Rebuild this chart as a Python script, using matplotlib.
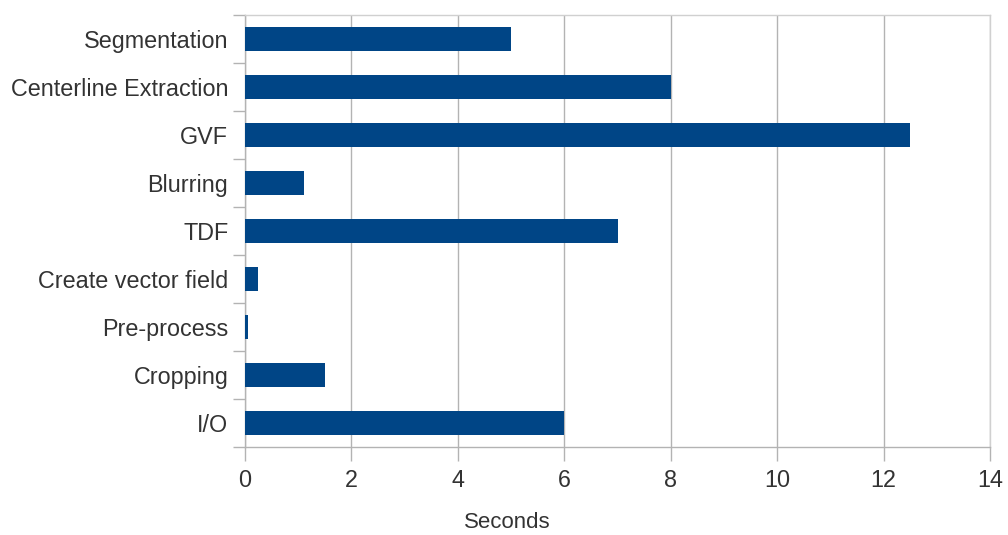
import matplotlib
matplotlib.use("Agg")
import matplotlib.pyplot as plt
from matplotlib.ticker import FixedLocator, NullFormatter

categories = ["I/O", "Cropping", "Pre-process", "Create vector field", "TDF",
              "Blurring", "GVF", "Centerline Extraction", "Segmentation"]
seconds = [6.0, 1.5, 0.05, 0.25, 7.0, 1.1, 12.5, 8.0, 5.0]
x_ticks = [0, 2, 4, 6, 8, 10, 12, 14]

plt.rcParams["font.family"] = ["Liberation Sans", "DejaVu Sans"]

fig = plt.figure(figsize=(10.08, 5.35), dpi=100)
ax = fig.add_axes([245 / 1008, 1 - 447 / 535, (990 - 245) / 1008, (447 - 15) / 535])

pos = list(range(len(categories)))
ax.barh(pos, seconds, height=0.52, color="#004586", zorder=3)

ax.set_xlim(0, 14)
ax.set_ylim(-0.5, len(categories) - 0.5)

ax.set_xticks(x_ticks)
ax.set_xticklabels([str(t) for t in x_ticks])
ax.grid(axis="x", color="#b3b3b3", linewidth=1.0, zorder=0)

# category labels centred on the bars, ticks at the category boundaries
ax.set_yticks(pos)
ax.set_yticklabels(categories)
ax.yaxis.set_minor_locator(FixedLocator([p - 0.5 for p in pos] + [len(pos) - 0.5]))
ax.yaxis.set_minor_formatter(NullFormatter())
ax.tick_params(axis="y", which="major", length=0, pad=12, labelsize=16.8, labelcolor="#333333")
ax.tick_params(axis="y", which="minor", length=9, width=1.0, color="#b3b3b3")
ax.tick_params(axis="x", which="major", length=10, width=1.0, color="#b3b3b3",
               labelsize=16.8, labelcolor="#333333", pad=6)

for side in ["left", "bottom"]:
    ax.spines[side].set_color("#b3b3b3")
    ax.spines[side].set_linewidth(1.0)
for side in ["top", "right"]:
    ax.spines[side].set_color("#d0d0d0")
    ax.spines[side].set_linewidth(1.0)

fig.text(507 / 1008, 1 - 522 / 535, "Seconds", fontsize=16, color="#333333",
         ha="center", va="center")

fig.savefig("out.png", dpi=100, facecolor="white")
